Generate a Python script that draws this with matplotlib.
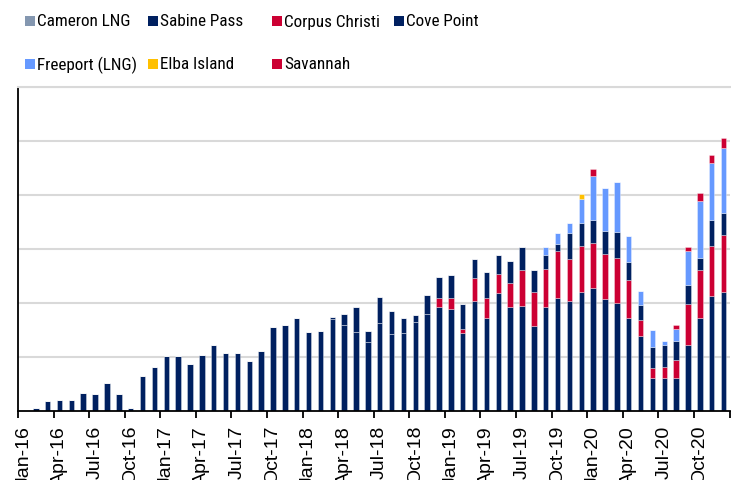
import matplotlib
matplotlib.use("Agg")
import matplotlib.pyplot as plt
from matplotlib import font_manager
from matplotlib.font_manager import FontProperties
from matplotlib.patches import Rectangle
import numpy as np
import pandas as pd

# ---------------- data (Bcf/d) ----------------
months = [d.strftime("%b-%y") for d in pd.date_range("2016-01-01", periods=60, freq="MS")]
tick_labels = ["Jan-16", "Apr-16", "Jul-16", "Oct-16", "Jan-17", "Apr-17", "Jul-17", "Oct-17",
               "Jan-18", "Apr-18", "Jul-18", "Oct-18", "Jan-19", "Apr-19", "Jul-19", "Oct-19",
               "Jan-20", "Apr-20", "Jul-20", "Oct-20"]

cameron = [0.0] * 60

sabine = [0.00, 0.11, 0.37, 0.40, 0.41, 0.65, 0.63, 1.02, 0.64, 0.10, 1.29, 1.64,
          2.05, 2.05, 1.75, 2.08, 2.44, 2.14, 2.16, 1.84, 2.22, 3.12, 3.18, 3.46,
          2.91, 2.95, 3.39, 3.19, 2.92, 2.57, 3.27, 2.86, 2.90, 3.30, 3.60, 3.87,
          3.77, 2.90, 4.09, 3.46, 4.38, 3.86, 3.88, 3.14, 3.86, 4.19, 4.09, 4.42,
          4.56, 4.15, 4.00, 3.45, 2.78, 1.21, 1.21, 1.21, 2.45, 3.43, 4.26, 4.41]

corpus = [0.0] * 35 + [0.31,
          0.41, 0.15, 0.82, 0.73, 0.69, 0.87, 1.36, 1.26, 1.40, 1.73, 1.53, 1.70,
          1.68, 1.68, 1.68, 1.39, 0.59, 0.37, 0.41, 0.69, 1.52, 1.81, 1.84, 2.12]

cove = [0.0] * 26 + [0.11, 0.39, 0.95, 0.40, 0.96, 0.84, 0.54, 0.27, 0.68, 0.80,
        0.84, 0.92, 0.72, 0.94, 0.72, 0.84, 0.85, 0.84, 0.50, 0.28, 0.97, 0.84,
        0.84, 0.84, 0.95, 0.68, 0.55, 0.80, 0.84, 0.68, 0.70, 0.43, 0.99, 0.82]

freeport = [0.0] * 44 + [0.30, 0.41, 0.38, 0.91,
            1.63, 1.58, 1.87, 0.95, 0.52, 0.61, 0.14, 0.45, 1.25, 2.12, 2.11, 2.40]

elba = [0.0] * 47 + [0.15] + [0.0] * 12

savannah = [0.0] * 48 + [0.27, 0.0, 0.0, 0.0, 0.0, 0.0, 0.0, 0.14, 0.15, 0.30, 0.27, 0.36]

series_names = ["Cameron LNG", "Sabine Pass", "Corpus Christi", "Cove Point",
                "Freeport (LNG)", "Elba Island", "Savannah"]
series_values = [cameron, sabine, corpus, cove, freeport, elba, savannah]
series_colors = ["#8497B0", "#002060", "#CC0033", "#002060", "#6699FF", "#FFC000", "#CC0033"]

# ---------------- fonts ----------------
fonts = font_manager.fontManager.ttflist
available = {f.name for f in fonts}

def pick(cands):
    for c in cands:
        if c in available:
            return c
    return "DejaVu Sans"

def condensed_font():
    narrow = []
    for f in fonts:
        tag = (f.name + " " + f.fname).lower()
        is_narrow = (str(f.stretch) in ("condensed", "semi-condensed", "extra-condensed")
                     or "condensed" in tag or "narrow" in tag)
        if is_narrow and f.style == "normal" and f.weight in (400, "normal", "regular") \
                and "mono" not in tag and "serif" not in tag.replace("sans-serif", "") \
                or (is_narrow and f.style == "normal" and f.weight in (400, "normal")
                    and "sans" in tag and "mono" not in tag):
            narrow.append(f)
    pref = ["liberation", "roboto", "open", "noto", "dejavu"]
    narrow.sort(key=lambda f: next((i for i, p in enumerate(pref) if p in f.fname.lower()), 99))
    if narrow:
        return FontProperties(fname=narrow[0].fname)
    return FontProperties(family=pick(["Roboto", "Lato", "Liberation Sans"]))

legend_fp = condensed_font()
tick_font = pick(["Liberation Sans", "Arial", "DejaVu Sans"])

# ---------------- figure ----------------
W, H = 731, 481
fig = plt.figure(figsize=(W / 100, H / 100), dpi=100)
ax = fig.add_axes([18 / W, (H - 412) / H, (729.5 - 18) / W, (412 - 88) / H])

x = np.arange(len(months))
bottom = np.zeros(len(months))
for name, vals, col in zip(series_names, series_values, series_colors):
    v = np.array(vals)
    ax.bar(x, v, width=0.46, bottom=bottom, color=col, edgecolor=(1, 1, 1, 0.6),
           linewidth=0.4, label=name, zorder=2)
    bottom += v

ax.set_xlim(-0.5, len(months) - 0.5)
ax.set_ylim(0, 12)
ax.set_yticks(np.arange(2, 12.1, 2))
ax.yaxis.grid(True, color="#D9D9D9", linewidth=1.5, zorder=0)
ax.set_axisbelow(True)
ax.tick_params(axis="y", length=0, labelleft=False)

label_pos = [months.index(t) for t in tick_labels]
ax.set_xticks(label_pos)
ax.set_xticklabels(tick_labels, rotation=90, fontsize=14, family=tick_font, va="top")
ax.tick_params(axis="x", which="major", length=0, pad=10)
ax.set_xticks(np.arange(-0.5, len(months), 3), minor=True)
ax.tick_params(axis="x", which="minor", length=5, width=1.3, color="black")

for s in ["left", "bottom"]:
    ax.spines[s].set_color("black")
    ax.spines[s].set_linewidth(1.3)
ax.spines["right"].set_visible(False)
ax.spines["top"].set_color("#D9D9D9")
ax.spines["top"].set_linewidth(1.5)

# ---------------- legend (Excel-style grid, row-wise) ----------------
col_x = [25, 148, 272, 394]
row_y = [22, 65]

# size legend text so "Cameron LNG" is about as wide as in the reference
renderer = fig.canvas.get_renderer()
probe_fp = legend_fp.copy()
probe_fp.set_size(12.5)
probe = fig.text(0, 0, series_names[0], fontproperties=probe_fp)
wpx = probe.get_window_extent(renderer).width
probe.remove()
legend_size = float(np.clip(12.5 * 94 / wpx, 10.5, 15.5))
legend_fp.set_size(legend_size)

for k, (name, col) in enumerate(zip(series_names, series_colors)):
    r, c = divmod(k, 4)
    px, py = col_x[c], row_y[r]
    fig.patches.append(Rectangle((px / W, 1 - (py + 5) / H), 10 / W, 10 / H,
                                 transform=fig.transFigure, facecolor=col,
                                 edgecolor="none"))
    fig.text((px + 12) / W, 1 - py / H, name, fontproperties=legend_fp,
             va="center", ha="left", color="black")

fig.savefig("out.png", dpi=100)
